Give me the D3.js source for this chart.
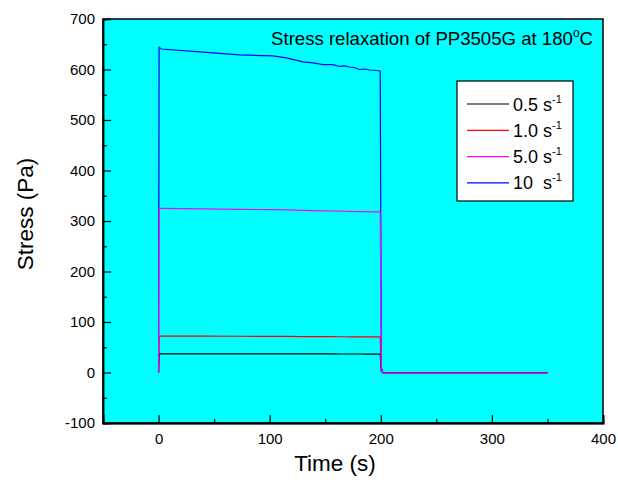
<!DOCTYPE html>
<html>
<head>
<meta charset="utf-8">
<script src="https://cdn.jsdelivr.net/npm/d3@7"></script>
<style>
  body { margin: 0; background: #fff; }
  text { font-family: Arial, "Liberation Sans", sans-serif; fill: #000; }
</style>
</head>
<body>
<svg id="chart" width="618" height="485"></svg>
<script>
// time (s) sampled along the curves
const times = [0, 0.5, 2.5, 43, 73, 103, 115, 130, 139, 148, 157, 163, 167, 172, 176, 181, 186, 190, 194, 199.5, 200.5, 202, 250, 300, 350];

// stress (Pa) at each time for each shear rate
const stress05 = [0, 37, 37, 37, 37, 36.8, 36.8, 36.8, 36.7, 36.7, 36.7, 36.6, 36.6, 36.6, 36.6, 36.6, 36.5, 36.5, 36.5, 36.5, 2, 0, 0, 0, 0];
const stress10 = [0, 72, 72, 72, 71.8, 71.5, 71.4, 71.2, 71, 71, 70.9, 70.8, 70.8, 70.7, 70.7, 70.6, 70.6, 70.5, 70.5, 70.5, 3, -0.5, -0.5, -0.5, -0.5];
const stress50 = [0, 325, 325, 324, 323, 322.5, 322, 321, 320.5, 320, 319.8, 319.5, 319.3, 319, 318.8, 318.6, 318.4, 318.2, 318, 318, 6, -1, -1, -1, -1];
const stress100 = [0, 644, 640.6, 634, 629, 627, 623, 615, 613, 609.5, 609.5, 606, 607, 605, 604, 600, 601, 599, 598.5, 597, 10, -1, -1, -1, -1];

const seriesNames = ["0.5", "1.0", "5.0", "10 "];
const seriesColors = ["#000000", "#ff0000", "#ff00ff", "#0000ff"];
const seriesValues = [stress05, stress10, stress50, stress100];
const drawOrder = [0, 1, 3, 2];

const xMajor = [0, 100, 200, 300, 400];
const xMinor = [50, 150, 250, 350];
const yMajor = [-100, 0, 100, 200, 300, 400, 500, 600, 700];
const yMinor = [-50, 50, 150, 250, 350, 450, 550, 650];

const margin = { left: 103, top: 19, right: 15, bottom: 62 };
const W = 618, H = 485;
const iw = W - margin.left - margin.right;
const ih = H - margin.top - margin.bottom;

const svg = d3.select("#chart");
const g = svg.append("g").attr("transform", `translate(${margin.left},${margin.top})`);

const x = d3.scaleLinear().domain([-50, 400]).range([0, iw]);
const y = d3.scaleLinear().domain([-100, 700]).range([ih, 0]);

g.append("rect")
  .attr("width", iw).attr("height", ih)
  .attr("fill", "#00ffff");

// curves
const line = d3.line()
  .x((d, i) => x(times[i]))
  .y(d => y(d));

drawOrder.forEach(k => {
  g.append("path")
    .datum(seriesValues[k])
    .attr("fill", "none")
    .attr("stroke", seriesColors[k])
    .attr("stroke-width", 1.2)
    .attr("d", line);
});

// frame
g.append("rect")
  .attr("width", iw).attr("height", ih)
  .attr("fill", "none")
  .attr("stroke", "#000")
  .attr("stroke-width", 1.5);

// axes, ticks pointing inward
const plain = d => String(d);
const xAxis = g.append("g")
  .attr("transform", `translate(0,${ih})`)
  .call(d3.axisBottom(x).tickValues(xMajor).tickSize(-8).tickPadding(10).tickFormat(plain));
g.append("g")
  .attr("transform", `translate(0,${ih})`)
  .call(d3.axisBottom(x).tickValues(xMinor).tickSize(-4).tickFormat(""));

const yAxis = g.append("g")
  .call(d3.axisLeft(y).tickValues(yMajor).tickSize(-8).tickPadding(8).tickFormat(plain));
g.append("g")
  .call(d3.axisLeft(y).tickValues(yMinor).tickSize(-4).tickFormat(""));

g.selectAll(".domain").attr("stroke", "#000").attr("stroke-width", 1.5);
g.selectAll(".tick line").attr("stroke", "#000").attr("stroke-width", 1.2);
g.selectAll(".tick text")
  .style("font-family", "Arial, 'Liberation Sans', sans-serif")
  .style("font-size", "15px")
  .attr("fill", "#000");
xAxis.select(".domain").attr("stroke-width", 2);

// axis titles
svg.append("text")
  .attr("x", 335).attr("y", 471)
  .attr("text-anchor", "middle")
  .style("font-size", "22.5px")
  .text("Time (s)");

svg.append("text")
  .attr("transform", "translate(33,214) rotate(-90)")
  .attr("text-anchor", "middle")
  .style("font-size", "22.5px")
  .text("Stress (Pa)");

// title
const title = svg.append("text")
  .attr("x", 593).attr("y", 45)
  .attr("text-anchor", "end")
  .style("font-size", "18.6px");
title.append("tspan").text("Stress relaxation of PP3505G at 180");
title.append("tspan").attr("dy", -8).style("font-size", "12px").text("o");
title.append("tspan").attr("dy", 8).text("C");

// legend
const legend = svg.append("g");
legend.append("rect")
  .attr("x", 457).attr("y", 81)
  .attr("width", 116).attr("height", 120)
  .attr("fill", "#fff")
  .attr("stroke", "#000")
  .attr("stroke-width", 1.2);

const rows = legend.selectAll("g.row")
  .data(seriesNames)
  .enter().append("g")
  .attr("class", "row")
  .attr("transform", (d, i) => `translate(0,${104 + i * 26.3})`);

rows.append("line")
  .attr("x1", 467).attr("x2", 509)
  .attr("stroke", (d, i) => seriesColors[i])
  .attr("stroke-width", 1.2);

const lt = rows.append("text")
  .attr("x", 513).attr("y", 6.5)
  .style("font-size", "18px")
  .style("white-space", "pre");
lt.append("tspan").text(d => d + " s");
lt.append("tspan").attr("dy", -8).style("font-size", "11px").text("-1");
</script>
</body>
</html>
